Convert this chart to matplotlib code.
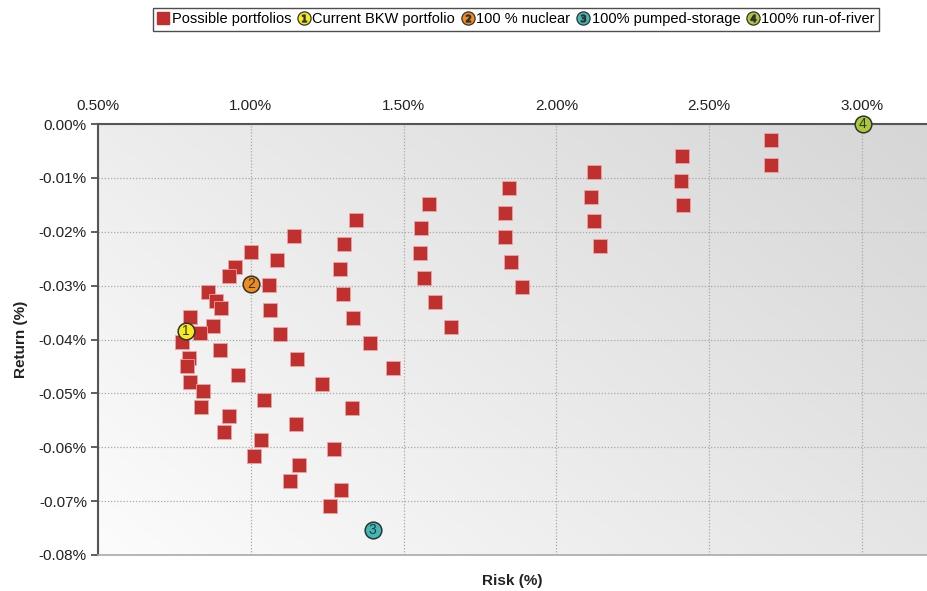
import numpy as np
import matplotlib.pyplot as plt
from matplotlib.lines import Line2D
from matplotlib.legend_handler import HandlerTuple
from matplotlib.colors import LinearSegmentedColormap

plt.rcParams['font.family'] = ['Liberation Sans', 'DejaVu Sans']

# possible portfolios: risk (%) and return (%)
risk = [2.704, 2.704,
        2.410, 2.407, 2.416,
        2.122, 2.115, 2.122, 2.142,
        1.844, 1.831, 1.831, 1.851, 1.887,
        1.582, 1.556, 1.553, 1.566, 1.602, 1.654,
        1.344, 1.304, 1.291, 1.301, 1.334, 1.389, 1.465,
        1.141, 1.085, 1.059, 1.062, 1.095, 1.151, 1.233, 1.331,
        1.000, 0.948, 0.928, 0.860, 0.886, 0.902, 0.801, 0.876, 0.834, 0.775,
        0.899, 0.798, 0.791, 0.958, 0.801, 0.843, 1.043, 0.837, 0.928, 1.147,
        0.912, 1.033, 1.272, 1.010, 1.157, 1.128, 1.295, 1.259]
ret = [-0.0030, -0.0076,
       -0.0059, -0.0106, -0.0150,
       -0.0089, -0.0135, -0.0180, -0.0226,
       -0.0119, -0.0165, -0.0210, -0.0256, -0.0302,
       -0.0148, -0.0193, -0.0239, -0.0286, -0.0330, -0.0377,
       -0.0178, -0.0223, -0.0269, -0.0315, -0.0360, -0.0406, -0.0453,
       -0.0208, -0.0252, -0.0299, -0.0345, -0.0390, -0.0436, -0.0482, -0.0527,
       -0.0237, -0.0265, -0.0282, -0.0312, -0.0328, -0.0341, -0.0358, -0.0375, -0.0388, -0.0404,
       -0.0419, -0.0434, -0.0449, -0.0466, -0.0479, -0.0495, -0.0512, -0.0525, -0.0542, -0.0557,
       -0.0571, -0.0586, -0.0603, -0.0616, -0.0633, -0.0662, -0.0679, -0.0709]

# special portfolios
special_names = ['Current BKW portfolio', '100 % nuclear',
                 '100% pumped-storage', '100% run-of-river']
special_nums = ['1', '2', '3', '4']
special_risk = [0.788, 1.000, 1.399, 3.002]
special_ret = [-0.0384, -0.0297, -0.0753, 0.0]
special_colors = ['#f4ea1e', '#f08c1c', '#3dbab8', '#a9c93a']

xticks = [0.5, 1.0, 1.5, 2.0, 2.5, 3.0]
yticks = [0.0, -0.01, -0.02, -0.03, -0.04, -0.05, -0.06, -0.07, -0.08]

red = '#c0302e'

fig = plt.figure(figsize=(9.27, 5.91), dpi=100)
ax = fig.add_axes([98 / 927, 1 - 555 / 591, 1 - 98 / 927, 431 / 591])

# background gradient: light bottom-left, darker top-right
gx, gy = np.meshgrid(np.linspace(0, 1, 200), np.linspace(0, 1, 200))
grad = (gx * 0.6 + gy * 0.4)
cmap = LinearSegmentedColormap.from_list('bg', ['#fcfcfc', '#d6d6d6'])
ax.imshow(grad, cmap=cmap, extent=[0, 1, 0, 1], origin='lower',
          transform=ax.transAxes, aspect='auto', zorder=0)

ax.set_xlim(0.5, 3.213)
ax.set_ylim(-0.08, 0.0)
ax.xaxis.tick_top()
ax.set_xticks(xticks)
ax.set_xticklabels(['%.2f%%' % v for v in xticks], fontsize=11, color='#222222')
ax.set_yticks(yticks)
ax.set_yticklabels(['%.2f%%' % v if v != 0 else '0.00%' for v in yticks],
                   fontsize=11, color='#222222')
ax.tick_params(axis='x', length=0, pad=8)
ax.tick_params(axis='y', length=5, width=1.2, color='#444444', pad=3)
ax.grid(True, linestyle=(0, (1, 1.5)), color='#a8a8a8', linewidth=0.9, zorder=1)

for s in ['left', 'top']:
    ax.spines[s].set_color('#555555')
    ax.spines[s].set_linewidth(1.5)
ax.spines['bottom'].set_color('#aaaaaa')
ax.spines['bottom'].set_linewidth(1.2)
ax.spines['right'].set_visible(False)

ax.plot(risk, ret, linestyle='none', marker='s', markersize=10,
        markerfacecolor=red, markeredgecolor='#e8a5a5', markeredgewidth=0.6,
        zorder=3, clip_on=False)

handles = [Line2D([], [], linestyle='none', marker='s', markersize=8,
                  markerfacecolor=red, markeredgecolor=red)]
for sx, sy, c, n in zip(special_risk, special_ret, special_colors, special_nums):
    ax.plot([sx], [sy], linestyle='none', marker='o', markersize=12,
            markerfacecolor=c, markeredgecolor='#333333', markeredgewidth=1.1,
            zorder=4, clip_on=False)
    ax.text(sx, sy, n, ha='center', va='center', fontsize=10, color='#333333',
            zorder=5)
    circ = Line2D([], [], linestyle='none', marker='o', markersize=9.5,
                  markerfacecolor=c, markeredgecolor='#333333', markeredgewidth=0.9)
    num = Line2D([], [], linestyle='none', marker='$%s$' % n, markersize=5,
                 color='#333333')
    handles.append((circ, num))

ax.set_xlabel('Risk (%)', fontsize=11, fontweight='bold', color='#222222')
ax.xaxis.set_label_position('bottom')
ax.xaxis.labelpad = 14
ax.set_ylabel('Return (%)', fontsize=11, fontweight='bold', color='#222222',
              labelpad=8)

labels = ['Possible portfolios'] + special_names
leg = fig.legend(handles, labels, loc='upper center',
                 bbox_to_anchor=(516 / 927, 1 - 8 / 591), ncol=5, fontsize=10.5,
                 frameon=True, fancybox=False, edgecolor='#222222',
                 handlelength=0.8, handletextpad=0.2, columnspacing=0.45,
                 borderpad=0.3, borderaxespad=0,
                 handler_map={tuple: HandlerTuple(ndivide=1)})
leg.get_frame().set_linewidth(1.0)

fig.savefig('out.png', dpi=100)
